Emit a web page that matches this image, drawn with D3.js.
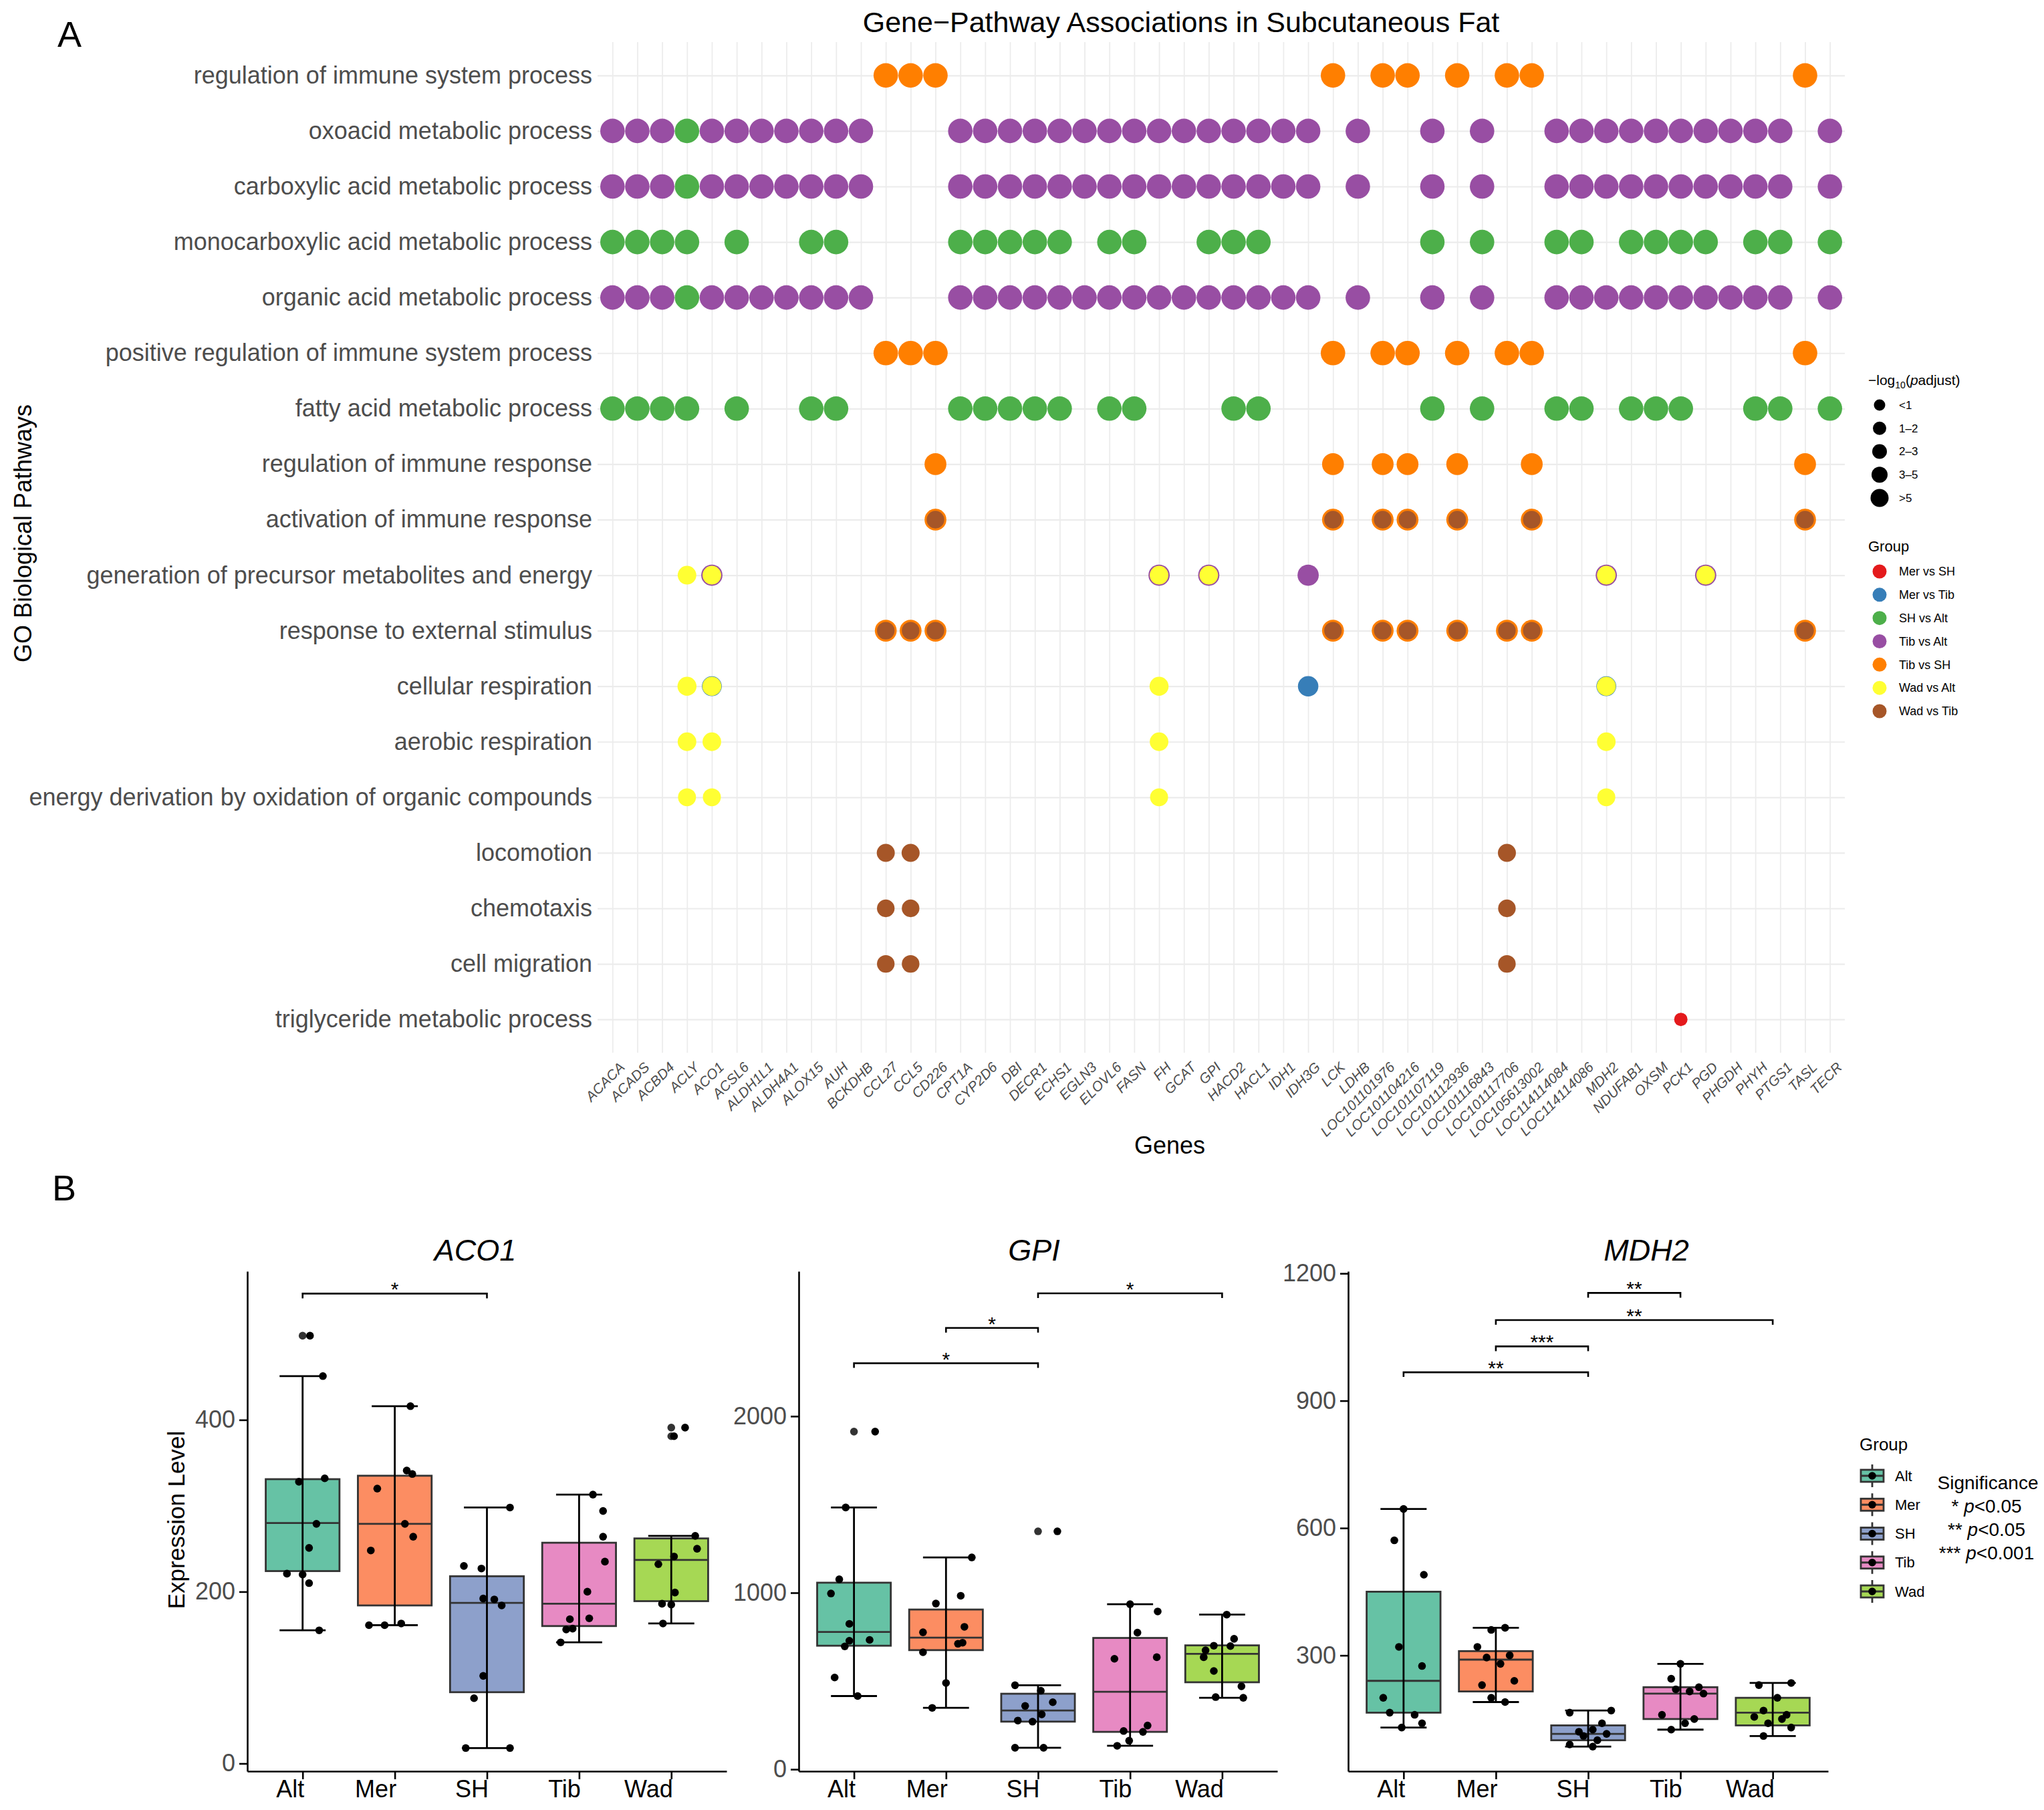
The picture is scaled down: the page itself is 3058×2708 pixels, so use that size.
<!DOCTYPE html>
<html>
<head>
<meta charset="utf-8">
<title>Gene-Pathway Associations in Subcutaneous Fat</title>
<script src="https://d3js.org/d3.v7.min.js"></script>
<style>
  body { margin: 0; background: #fff; }
  svg text { font-family: "Liberation Sans", Arial, Helvetica, sans-serif; }
</style>
</head>
<body>
<svg id="fig"></svg>
<script>
// ---------- panel A data ----------
const genes = ['ACACA','ACADS','ACBD4','ACLY','ACO1','ACSL6','ALDH1L1','ALDH4A1','ALOX15','AUH',
  'BCKDHB','CCL27','CCL5','CD226','CPT1A','CYP2D6','DBI','DECR1','ECHS1','EGLN3','ELOVL6','FASN',
  'FH','GCAT','GPI','HACD2','HACL1','IDH1','IDH3G','LCK','LDHB','LOC101101976','LOC101104216',
  'LOC101107119','LOC101112936','LOC101116843','LOC101117706','LOC105613002','LOC114114084',
  'LOC114114086','MDH2','NDUFAB1','OXSM','PCK1','PGD','PHGDH','PHYH','PTGS1','TASL','TECR'];

const pathways = ['regulation of immune system process','oxoacid metabolic process',
  'carboxylic acid metabolic process','monocarboxylic acid metabolic process',
  'organic acid metabolic process','positive regulation of immune system process',
  'fatty acid metabolic process','regulation of immune response','activation of immune response',
  'generation of precursor metabolites and energy','response to external stimulus',
  'cellular respiration','aerobic respiration','energy derivation by oxidation of organic compounds',
  'locomotion','chemotaxis','cell migration','triglyceride metabolic process'];

const groups = ['Mer vs SH','Mer vs Tib','SH vs Alt','Tib vs Alt','Tib vs SH','Wad vs Alt','Wad vs Tib'];
const groupColors = ['#E41A1C','#377EB8','#4DAF4A','#984EA3','#FF7F00','#FFFF33','#A65628'];
const sizeBins = ['<1','1–2','2–3','3–5','>5'];

const acidTibAlt = ['ACACA','ACADS','ACBD4','ACO1','ACSL6','ALDH1L1','ALDH4A1','ALOX15','AUH','BCKDHB',
  'CPT1A','CYP2D6','DBI','DECR1','ECHS1','EGLN3','ELOVL6','FASN','FH','GCAT','GPI','HACD2','HACL1',
  'IDH1','IDH3G','LDHB','LOC101107119','LOC101116843','LOC114114084','LOC114114086','MDH2','NDUFAB1',
  'OXSM','PCK1','PGD','PHGDH','PHYH','PTGS1','TECR'];
const monoSHAlt = ['ACACA','ACADS','ACBD4','ACLY','ACSL6','ALOX15','AUH','CPT1A','CYP2D6','DBI','DECR1',
  'ECHS1','ELOVL6','FASN','GPI','HACD2','HACL1','LOC101107119','LOC101116843','LOC114114084',
  'LOC114114086','NDUFAB1','OXSM','PCK1','PGD','PHYH','PTGS1','TECR'];
const fattySHAlt = ['ACACA','ACADS','ACBD4','ACLY','ACSL6','ALOX15','AUH','CPT1A','CYP2D6','DBI','DECR1',
  'ECHS1','ELOVL6','FASN','HACD2','HACL1','LOC101107119','LOC101116843','LOC114114084',
  'LOC114114086','NDUFAB1','OXSM','PCK1','PHYH','PTGS1','TECR'];
const immuneAll = ['CCL27','CCL5','CD226','LCK','LOC101101976','LOC101104216','LOC101112936',
  'LOC101117706','LOC105613002','TASL'];
const immuneResp = ['CD226','LCK','LOC101101976','LOC101104216','LOC101112936','LOC105613002','TASL'];
const respWadAlt = ['ACLY','ACO1','FH','MDH2'];
const motility = ['CCL27','CCL5','LOC101117706'];

// [pathway, group, -log10(padjust), genes]
const associations = [
  ['regulation of immune system process','Tib vs SH',6,immuneAll],
  ['oxoacid metabolic process','Tib vs Alt',6,acidTibAlt],
  ['oxoacid metabolic process','SH vs Alt',6,['ACLY']],
  ['carboxylic acid metabolic process','Tib vs Alt',6,acidTibAlt],
  ['carboxylic acid metabolic process','SH vs Alt',6,['ACLY']],
  ['monocarboxylic acid metabolic process','SH vs Alt',6,monoSHAlt],
  ['organic acid metabolic process','Tib vs Alt',6,acidTibAlt],
  ['organic acid metabolic process','SH vs Alt',6,['ACLY']],
  ['positive regulation of immune system process','Tib vs SH',6,immuneAll],
  ['fatty acid metabolic process','SH vs Alt',6,fattySHAlt],
  ['regulation of immune response','Tib vs SH',4.7,immuneResp],
  ['activation of immune response','Tib vs SH',4.7,immuneResp],
  ['activation of immune response','Wad vs Tib',2.6,immuneResp],
  ['generation of precursor metabolites and energy','Tib vs Alt',4.4,['ACO1','FH','GPI','IDH3G','MDH2','PGD']],
  ['generation of precursor metabolites and energy','Wad vs Alt',3.1,['ACLY','ACO1','FH','GPI','MDH2','PGD']],
  ['response to external stimulus','Tib vs SH',4.7,immuneAll],
  ['response to external stimulus','Wad vs Tib',2.6,immuneAll],
  ['cellular respiration','Mer vs Tib',4.0,['IDH3G']],
  ['cellular respiration','Mer vs Tib',3.7,['ACO1','MDH2']],
  ['cellular respiration','Wad vs Alt',3.3,respWadAlt],
  ['aerobic respiration','Wad vs Alt',3.1,respWadAlt],
  ['energy derivation by oxidation of organic compounds','Wad vs Alt',2.8,respWadAlt],
  ['locomotion','Wad vs Tib',2.8,motility],
  ['chemotaxis','Wad vs Tib',2.6,motility],
  ['cell migration','Wad vs Tib',2.6,motility],
  ['triglyceride metabolic process','Mer vs SH',0.5,['PCK1']]
];

// ---------- panel B data ----------
const boxGroups = ['Alt','Mer','SH','Tib','Wad'];
const boxColors = ['#66C2A5','#FC8D62','#8DA0CB','#E78AC3','#A6D854'];

// [lower whisker, Q1, median, Q3, upper whisker]
const aco1Stats = [[155,224,280,331,451],[161,184,279,335,416],[18,83,187,218,298],
  [141,160,186,257,313],[163,189,237,262,265]];
const aco1Outliers = [['Alt',498],['Wad',391],['Wad',381]];
// [group, value, jitter (fraction of category step)]
const aco1Points = [
  ['Alt',498,.08],['Alt',451,.22],['Alt',332,.24],['Alt',328,-.04],['Alt',279,.15],['Alt',251,.07],
  ['Alt',221,-.17],['Alt',220,0],['Alt',210,.07],['Alt',155,.18],
  ['Mer',416,.17],['Mer',341,.13],['Mer',337,.19],['Mer',320,-.19],['Mer',279,.11],['Mer',264,.2],
  ['Mer',248,-.26],['Mer',161,-.28],['Mer',161,-.11],['Mer',163,.07],
  ['SH',298,.25],['SH',230,-.25],['SH',227,-.06],['SH',192,-.04],['SH',191,.08],['SH',184,.16],
  ['SH',102,-.04],['SH',76,-.14],['SH',18,-.23],['SH',18,.25],
  ['Tib',313,.15],['Tib',294,.26],['Tib',264,.26],['Tib',235,.28],['Tib',200,.09],['Tib',169,.11],
  ['Tib',168,-.1],['Tib',156,-.14],['Tib',157,-.07],['Tib',141,-.2],
  ['Wad',391,.15],['Wad',381,.03],['Wad',265,.26],['Wad',250,.28],['Wad',241,.03],['Wad',232,-.14],
  ['Wad',199,.04],['Wad',186,-.1],['Wad',185,0],['Wad',163,-.09]];
const aco1Signif = [['Alt','SH',547,'*']];

const gpiStats = [[415,700,778,1057,1483],[348,675,746,905,1200],[122,270,333,428,476],
  [133,212,439,744,935],[405,493,654,702,876]];
const gpiOutliers = [['Alt',1913],['SH',1348]];
const gpiPoints = [
  ['Alt',1913,.23],['Alt',1483,-.09],['Alt',1076,-.16],['Alt',996,-.25],['Alt',824,-.05],['Alt',728,-.05],
  ['Alt',733,.17],['Alt',696,-.1],['Alt',520,-.21],['Alt',415,.04],
  ['Mer',1200,.28],['Mer',983,.16],['Mer',939,-.11],['Mer',807,.2],['Mer',776,-.25],['Mer',717,.18],
  ['Mer',711,.13],['Mer',663,-.25],['Mer',489,0],['Mer',348,-.15],
  ['SH',1348,.21],['SH',476,-.25],['SH',445,.03],['SH',380,.16],['SH',359,-.14],['SH',311,.04],
  ['SH',276,-.22],['SH',270,-.06],['SH',122,-.25],['SH',122,.06],
  ['Tib',935,0],['Tib',894,.3],['Tib',774,.08],['Tib',626,-.17],['Tib',635,.29],['Tib',248,.19],
  ['Tib',217,-.07],['Tib',212,.14],['Tib',162,-.01],['Tib',133,-.14],
  ['Wad',876,.05],['Wad',739,.13],['Wad',700,-.09],['Wad',698,.09],['Wad',674,-.18],['Wad',635,-.2],
  ['Wad',557,-.09],['Wad',470,.21],['Wad',409,-.07],['Wad',405,.23]];
const gpiSignif = [['Alt','SH',2300,'*'],['Mer','SH',2500,'*'],['SH','Wad',2696,'*']];

const mdh2Stats = [[130,165,240,450,645],[190,215,290,310,365],[85,100,115,135,170],
  [125,150,210,225,280],[110,135,165,200,235]];
const mdh2Outliers = [];
const mdh2Points = [
  ['Alt',645,0],['Alt',571,-.1],['Alt',490,.22],['Alt',320,-.05],['Alt',275,.2],['Alt',200,-.22],
  ['Alt',165,-.15],['Alt',160,.12],['Alt',140,.2],['Alt',130,-.02],
  ['Mer',365,.1],['Mer',360,-.05],['Mer',320,-.2],['Mer',300,.15],['Mer',295,-.1],['Mer',280,.05],
  ['Mer',240,.2],['Mer',230,-.15],['Mer',200,-.05],['Mer',190,.1],
  ['SH',170,.25],['SH',165,-.2],['SH',140,.15],['SH',125,.05],['SH',120,-.1],['SH',115,.2],
  ['SH',110,-.05],['SH',100,.1],['SH',90,-.2],['SH',85,.05],
  ['Tib',280,0],['Tib',245,-.1],['Tib',225,.2],['Tib',220,-.05],['Tib',215,.1],['Tib',210,.25],
  ['Tib',160,-.2],['Tib',150,.15],['Tib',140,.05],['Tib',125,-.1],
  ['Wad',235,.2],['Wad',230,-.15],['Wad',200,.05],['Wad',170,-.1],['Wad',160,.15],['Wad',155,-.2],
  ['Wad',150,.1],['Wad',140,-.05],['Wad',130,.2],['Wad',110,-.1]];
const mdh2Signif = [['Alt','SH',967,'**'],['Mer','SH',1028,'***'],['Mer','Wad',1090,'**'],['SH','Tib',1154,'**']];

// ---------- figure ----------
const W = 3058, H = 2708;
const svg = d3.select('#fig').attr('width', W).attr('height', H)
  .attr('viewBox', `0 0 ${W} ${H}`);
svg.append('rect').attr('width', W).attr('height', H).attr('fill', '#fff');

// panel tags
svg.append('text').attr('x', 86).attr('y', 70).attr('font-size', 54).text('A');
svg.append('text').attr('x', 78).attr('y', 1796).attr('font-size', 54).text('B');

// ---------- panel A: dot plot ----------
const aLeft = 894, aRight = 2760, aTop = 63, aBottom = 1575;
const ax = d3.scalePoint().domain(genes).range([aLeft, aRight]).padding(0.6);
const ay = d3.scalePoint().domain(pathways).range([aTop, aBottom]).padding(0.6);
const color = d3.scaleOrdinal().domain(groups).range(groupColors);
const dotR = d3.scaleLinear().domain([0.5, 6]).range([10, 18.3]);

const gA = svg.append('g');

// grid lines
gA.append('g').attr('transform', `translate(0,${aBottom})`)
  .call(d3.axisBottom(ax).tickSize(-(aBottom - aTop)).tickFormat(''))
  .call(g => g.select('.domain').remove())
  .call(g => g.selectAll('line').attr('stroke', '#ececec').attr('stroke-width', 1.8));
gA.append('g').attr('transform', `translate(${aLeft},0)`)
  .call(d3.axisLeft(ay).tickSize(-(aRight - aLeft)).tickFormat(''))
  .call(g => g.select('.domain').remove())
  .call(g => g.selectAll('line').attr('stroke', '#ececec').attr('stroke-width', 2.2));

// y labels
gA.append('g').attr('transform', `translate(${aLeft},0)`)
  .call(d3.axisLeft(ay).tickSize(0).tickPadding(8))
  .call(g => g.select('.domain').remove())
  .call(g => g.selectAll('text').attr('font-size', 36).attr('fill', '#4d4d4d')
    .attr('font-family', '"Liberation Sans", Arial, sans-serif'));

// x labels
gA.append('g').attr('transform', `translate(0,${aBottom})`)
  .call(d3.axisBottom(ax).tickSize(0))
  .call(g => g.select('.domain').remove())
  .call(g => g.selectAll('text')
    .attr('x', 0).attr('y', 0).attr('dy', 0)
    .attr('transform', 'translate(19,23) rotate(-45)')
    .attr('text-anchor', 'end').attr('font-size', 21).attr('font-style', 'italic')
    .attr('fill', '#4d4d4d').attr('font-family', '"Liberation Sans", Arial, sans-serif'));

// dots, drawn in group order so overlapping points stack like the original
const dots = [];
associations.forEach(([pw, grp, score, list]) => {
  list.forEach(gene => dots.push({ pw, grp, score, gene }));
});
dots.sort((a, b) => groups.indexOf(a.grp) - groups.indexOf(b.grp) || b.score - a.score);

gA.append('g').selectAll('circle').data(dots).join('circle')
  .attr('cx', d => ax(d.gene))
  .attr('cy', d => ay(d.pw))
  .attr('r', d => dotR(d.score))
  .attr('fill', d => color(d.grp));

// titles
svg.append('text').attr('x', 1767).attr('y', 48).attr('text-anchor', 'middle')
  .attr('font-size', 43).text('Gene\u2212Pathway Associations in Subcutaneous Fat');
svg.append('text').attr('x', 1750).attr('y', 1726).attr('text-anchor', 'middle')
  .attr('font-size', 36).text('Genes');
svg.append('text').attr('transform', 'translate(47,798) rotate(-90)').attr('text-anchor', 'middle')
  .attr('font-size', 36).text('GO Biological Pathways');

// legend A: size
const lgA = svg.append('g');
const sizeTitle = lgA.append('text').attr('x', 2795).attr('y', 576).attr('font-size', 21);
sizeTitle.append('tspan').text('\u2212log');
sizeTitle.append('tspan').attr('font-size', 14).attr('dy', 5).text('10');
sizeTitle.append('tspan').attr('dy', -5).text('(');
sizeTitle.append('tspan').attr('font-style', 'italic').text('p');
sizeTitle.append('tspan').text('adjust)');
const legendSize = d3.scaleOrdinal().domain(sizeBins).range([8.5, 10, 11, 12, 13.5]);
const sizeRow = d3.scalePoint().domain(sizeBins).range([606, 745]);
lgA.selectAll('circle.sz').data(sizeBins).join('circle').attr('class', 'sz')
  .attr('cx', 2812).attr('cy', d => sizeRow(d)).attr('r', d => legendSize(d)).attr('fill', '#000');
lgA.selectAll('text.sz').data(sizeBins).join('text').attr('class', 'sz')
  .attr('x', 2841).attr('y', d => sizeRow(d)).attr('dy', '0.35em').attr('font-size', 17).text(d => d);

// legend A: group
lgA.append('text').attr('x', 2795).attr('y', 825).attr('font-size', 22).text('Group');
const groupRow = d3.scalePoint().domain(groups).range([855, 1064]);
lgA.selectAll('circle.gr').data(groups).join('circle').attr('class', 'gr')
  .attr('cx', 2812).attr('cy', d => groupRow(d)).attr('r', 10.5).attr('fill', d => color(d));
lgA.selectAll('text.gr').data(groups).join('text').attr('class', 'gr')
  .attr('x', 2841).attr('y', d => groupRow(d)).attr('dy', '0.35em').attr('font-size', 18).text(d => d);

// ---------- panel B: box plots ----------
const bTop = 1902, bBottom = 2650;
const boxColor = d3.scaleOrdinal().domain(boxGroups).range(boxColors);

function boxPanel(p) {
  const g = svg.append('g');
  const x = d3.scalePoint().domain(boxGroups).range([p.left, p.right]).padding(0.6);
  const step = x.step();
  const y = d3.scaleLinear().domain(p.domain).range([bBottom, bTop]);

  g.append('g').attr('transform', `translate(${p.left},0)`)
    .call(d3.axisLeft(y).tickValues(p.ticks).tickFormat(d3.format('d'))
      .tickSize(12).tickSizeOuter(0).tickPadding(6))
    .call(a => a.select('.domain').attr('stroke-width', 2.6))
    .call(a => a.selectAll('.tick line').attr('stroke-width', 2.6))
    .call(a => a.selectAll('text').attr('font-size', 36).attr('fill', '#4d4d4d')
      .attr('font-family', '"Liberation Sans", Arial, sans-serif'));

  g.append('g').attr('transform', `translate(0,${bBottom})`)
    .call(d3.axisBottom(x).tickSize(12).tickSizeOuter(0))
    .call(a => a.select('.domain').attr('stroke-width', 2.6))
    .call(a => a.selectAll('.tick line').attr('stroke-width', 2.6))
    .call(a => a.selectAll('text').attr('font-size', 36).attr('fill', '#000')
      .attr('text-anchor', 'end').attr('y', 13).attr('x', 2)
      .attr('font-family', '"Liberation Sans", Arial, sans-serif'));

  const stats = p.stats.map((s, i) => ({ grp: boxGroups[i], lo: s[0], q1: s[1], med: s[2], q3: s[3], hi: s[4] }));
  const bw = step * 0.8, ew = step * 0.5;

  const box = g.append('g').selectAll('g').data(stats).join('g');
  box.append('rect')
    .attr('x', d => x(d.grp) - bw / 2).attr('width', bw)
    .attr('y', d => y(d.q3)).attr('height', d => y(d.q1) - y(d.q3))
    .attr('fill', d => boxColor(d.grp)).attr('stroke', '#333').attr('stroke-width', 2.8);
  box.append('line')
    .attr('x1', d => x(d.grp) - bw / 2).attr('x2', d => x(d.grp) + bw / 2)
    .attr('y1', d => y(d.med)).attr('y2', d => y(d.med))
    .attr('stroke', '#333').attr('stroke-width', 2.8);
  // error-bar style whiskers
  box.append('line')
    .attr('x1', d => x(d.grp)).attr('x2', d => x(d.grp))
    .attr('y1', d => y(d.lo)).attr('y2', d => y(d.hi))
    .attr('stroke', '#000').attr('stroke-width', 2.8);
  ['lo', 'hi'].forEach(k => {
    box.append('line')
      .attr('x1', d => x(d.grp) - ew / 2).attr('x2', d => x(d.grp) + ew / 2)
      .attr('y1', d => y(d[k])).attr('y2', d => y(d[k]))
      .attr('stroke', '#000').attr('stroke-width', 2.8);
  });

  g.append('g').selectAll('circle').data(p.outliers).join('circle')
    .attr('cx', d => x(d[0])).attr('cy', d => y(d[1])).attr('r', 5.8).attr('fill', '#333');
  g.append('g').selectAll('circle').data(p.points).join('circle')
    .attr('cx', d => x(d[0]) + d[2] * step).attr('cy', d => y(d[1])).attr('r', 5.8).attr('fill', '#000');

  // significance brackets
  const sg = g.append('g').selectAll('g').data(p.signif).join('g');
  sg.append('path')
    .attr('d', d => `M${x(d[0])},${y(d[2]) + 7}V${y(d[2])}H${x(d[1])}V${y(d[2]) + 7}`)
    .attr('fill', 'none').attr('stroke', '#000').attr('stroke-width', 2.6);
  sg.append('text')
    .attr('x', d => (x(d[0]) + x(d[1])) / 2).attr('y', d => y(d[2]) + 4)
    .attr('text-anchor', 'middle').attr('font-size', 30).text(d => d[3]);

  svg.append('text').attr('x', p.titleX).attr('y', 1886).attr('text-anchor', 'middle')
    .attr('font-size', 45).attr('font-style', 'italic').text(p.title);
}

boxPanel({ title: 'ACO1', titleX: 711, left: 370, right: 1087, domain: [-9, 573], ticks: [0, 200, 400],
  stats: aco1Stats, points: aco1Points, outliers: aco1Outliers, signif: aco1Signif });
boxPanel({ title: 'GPI', titleX: 1547, left: 1195, right: 1911, domain: [-11, 2821], ticks: [0, 1000, 2000],
  stats: gpiStats, points: gpiPoints, outliers: gpiOutliers, signif: gpiSignif });
boxPanel({ title: 'MDH2', titleX: 2463, left: 2017, right: 2735, domain: [27, 1205], ticks: [300, 600, 900, 1200],
  stats: mdh2Stats, points: mdh2Points, outliers: mdh2Outliers, signif: mdh2Signif });

svg.append('text').attr('transform', 'translate(276,2274) rotate(-90)').attr('text-anchor', 'middle')
  .attr('font-size', 35).text('Expression Level');

// legend B: group keys
const lgB = svg.append('g');
lgB.append('text').attr('x', 2782).attr('y', 2170).attr('font-size', 26).text('Group');
const keyRow = d3.scalePoint().domain(boxGroups).range([2208, 2381]);
const key = lgB.selectAll('g.key').data(boxGroups).join('g').attr('class', 'key')
  .attr('transform', d => `translate(2801,${keyRow(d)})`);
key.append('line').attr('y1', -17).attr('y2', 17).attr('stroke', '#333').attr('stroke-width', 2.8);
key.append('rect').attr('x', -17).attr('y', -9).attr('width', 34).attr('height', 18)
  .attr('fill', d => boxColor(d)).attr('stroke', '#333').attr('stroke-width', 2.8);
key.append('line').attr('x1', -17).attr('x2', 17).attr('stroke', '#333').attr('stroke-width', 2.8);
key.append('circle').attr('r', 5.8).attr('fill', '#000');
key.append('text').attr('x', 34).attr('dy', '0.35em').attr('font-size', 22).text(d => d);

// significance note
const sigNote = [['*', 'p', '<0.05'], ['**', 'p', '<0.05'], ['***', 'p', '<0.001']];
lgB.append('text').attr('x', 2974).attr('y', 2228).attr('text-anchor', 'middle')
  .attr('font-size', 28).text('Significance');
sigNote.forEach((s, i) => {
  const t = lgB.append('text').attr('x', 2972).attr('y', 2263 + i * 35).attr('text-anchor', 'middle')
    .attr('font-size', 28);
  t.append('tspan').text(s[0] + ' ');
  t.append('tspan').attr('font-style', 'italic').text(s[1]);
  t.append('tspan').text(s[2]);
});
</script>
</body>
</html>
